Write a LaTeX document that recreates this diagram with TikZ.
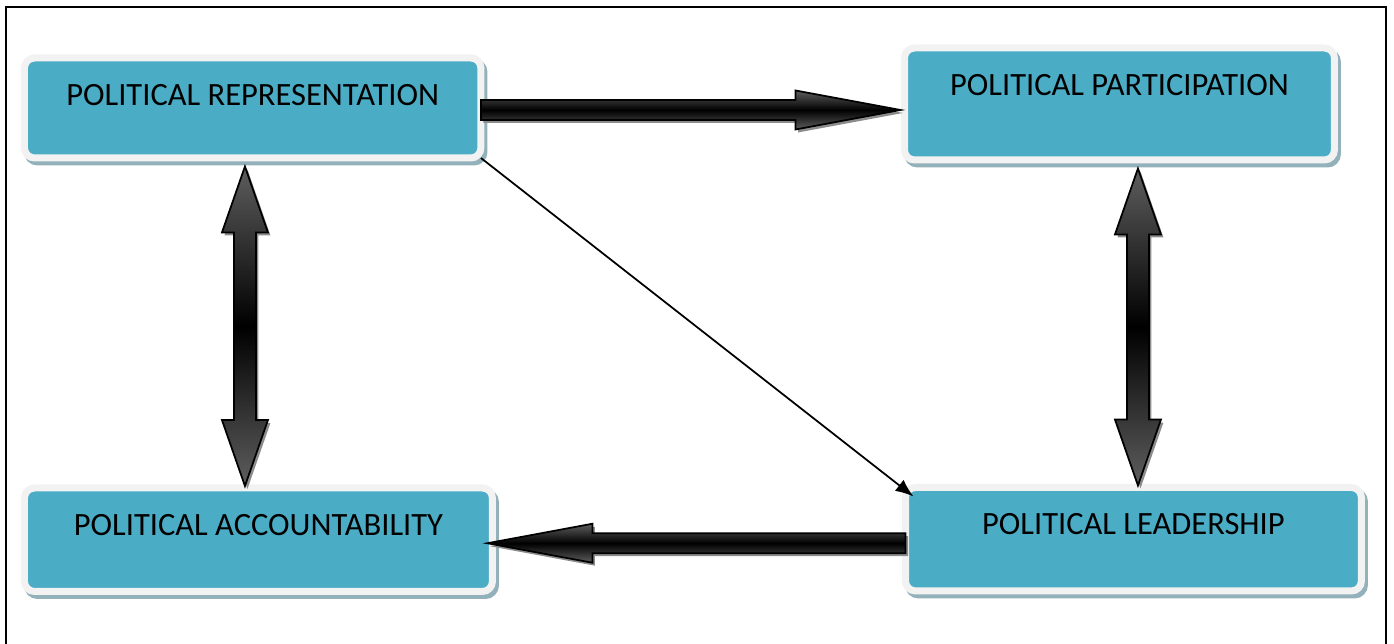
\documentclass[tikz,border=0pt]{standalone}
\usepackage{fontspec}
\setmainfont{Carlito}
\usepackage{tikz}
\usetikzlibrary{arrows.meta,calc,shadows}

\definecolor{boxblue}{HTML}{4BACC6}
\definecolor{boxrim}{HTML}{F2F2F2}
\definecolor{boxshade}{HTML}{93B1BA}
\definecolor{arrowgray}{HTML}{5E5E5E}

% sizes of the block arrows
\def\hsw{0.2cm}\def\hhw{0.39cm}\def\hhl{2.1cm}
\def\vsw{0.22cm}\def\vhw{0.46cm}\def\vhl{1.32cm}

\tikzset{
  pbox/.style={rectangle, rounded corners=0.2cm, anchor=north west,
    fill=boxblue, draw=boxrim, line width=0.14cm, inner sep=0pt, outer sep=0pt,
    text height=0.95cm, font=\fontsize{18.5}{22}\selectfont,
    drop shadow={shadow xshift=0.06cm, shadow yshift=-0.08cm,
      fill=boxshade, draw=boxshade, line width=0.14cm, opacity=1}},
  arrowbody/.style={draw=black, line width=1pt,
    top color=arrowgray, bottom color=arrowgray, middle color=black,
    drop shadow={shadow xshift=0.05cm, shadow yshift=-0.06cm,
      fill=black!45, opacity=1}},
  fatarrow/.style={arrowbody, to path={
    let \p1=(\tikztostart), \p2=(\tikztotarget),
        \n1={atan2(\y2-\y1,\x2-\x1)}, \n2={veclen(\x2-\x1,\y2-\y1)} in
    [shift={(\p1)}, rotate=\n1]
    (0pt,-\hsw) -- ({\n2-\hhl},-\hsw) -- ({\n2-\hhl},-\hhw) -- (\n2,0pt)
    -- ({\n2-\hhl},\hhw) -- ({\n2-\hhl},\hsw) -- (0pt,\hsw) -- cycle}},
  fatdouble/.style={arrowbody, to path={
    let \p1=(\tikztostart), \p2=(\tikztotarget),
        \n1={atan2(\y2-\y1,\x2-\x1)}, \n2={veclen(\x2-\x1,\y2-\y1)} in
    [shift={(\p1)}, rotate=\n1]
    (\vhl,-\vsw) -- ({\n2-\vhl},-\vsw) -- ({\n2-\vhl},-\vhw) -- (\n2,0pt)
    -- ({\n2-\vhl},\vhw) -- ({\n2-\vhl},\vsw) -- (\vhl,\vsw) -- (\vhl,\vhw)
    -- (0pt,0pt) -- (\vhl,-\vhw) -- cycle}},
}

\begin{document}
\begin{tikzpicture}[x=0.02cm,y=-0.02cm]
  \useasboundingbox (0,0) rectangle (1394,644);
  \clip (0,0) rectangle (1394,644);
  \draw[line width=0.04cm] (6,7) rectangle (1386,700); % frame

  % boxes
  \node[pbox, minimum width=9.13cm, text depth=1.05cm] (rep) at (24.5,58) {POLITICAL REPRESENTATION};
  \node[pbox, minimum width=8.6cm, text depth=1.29cm] (par) at (904.5,48) {POLITICAL PARTICIPATION};
  \node[pbox, minimum width=9.12cm, text depth=1.12cm] (lead) at (905.5,487.5) {POLITICAL LEADERSHIP};
  \node[pbox, minimum width=9.36cm, text depth=1.12cm] (acc) at (24.5,488) {POLITICAL ACCOUNTABILITY};

  % links
  \draw[fatarrow] ($(rep.east)+(0,2)$) to ($(par.west|-rep.east)+(-4,2)$);
  \draw[fatarrow] ($(lead.west)+(0,4)$) to ($(acc.east|-lead.west)+(-5,4)$);
  \draw[fatdouble] ($(rep.south)+(-7.75,8.5)$) to ($(rep.south|-acc.north)+(-7.75,-2)$);
  \draw[fatdouble] ($(par.south)+(18.5,8.5)$) to ($(par.south|-lead.north)+(18.5,-2)$);
  \draw[line width=1pt, -{Latex[length=3.6mm,width=2.8mm]}] (rep.south east) -- ($(lead.north west)+(8,9)$);
\end{tikzpicture}
\end{document}
